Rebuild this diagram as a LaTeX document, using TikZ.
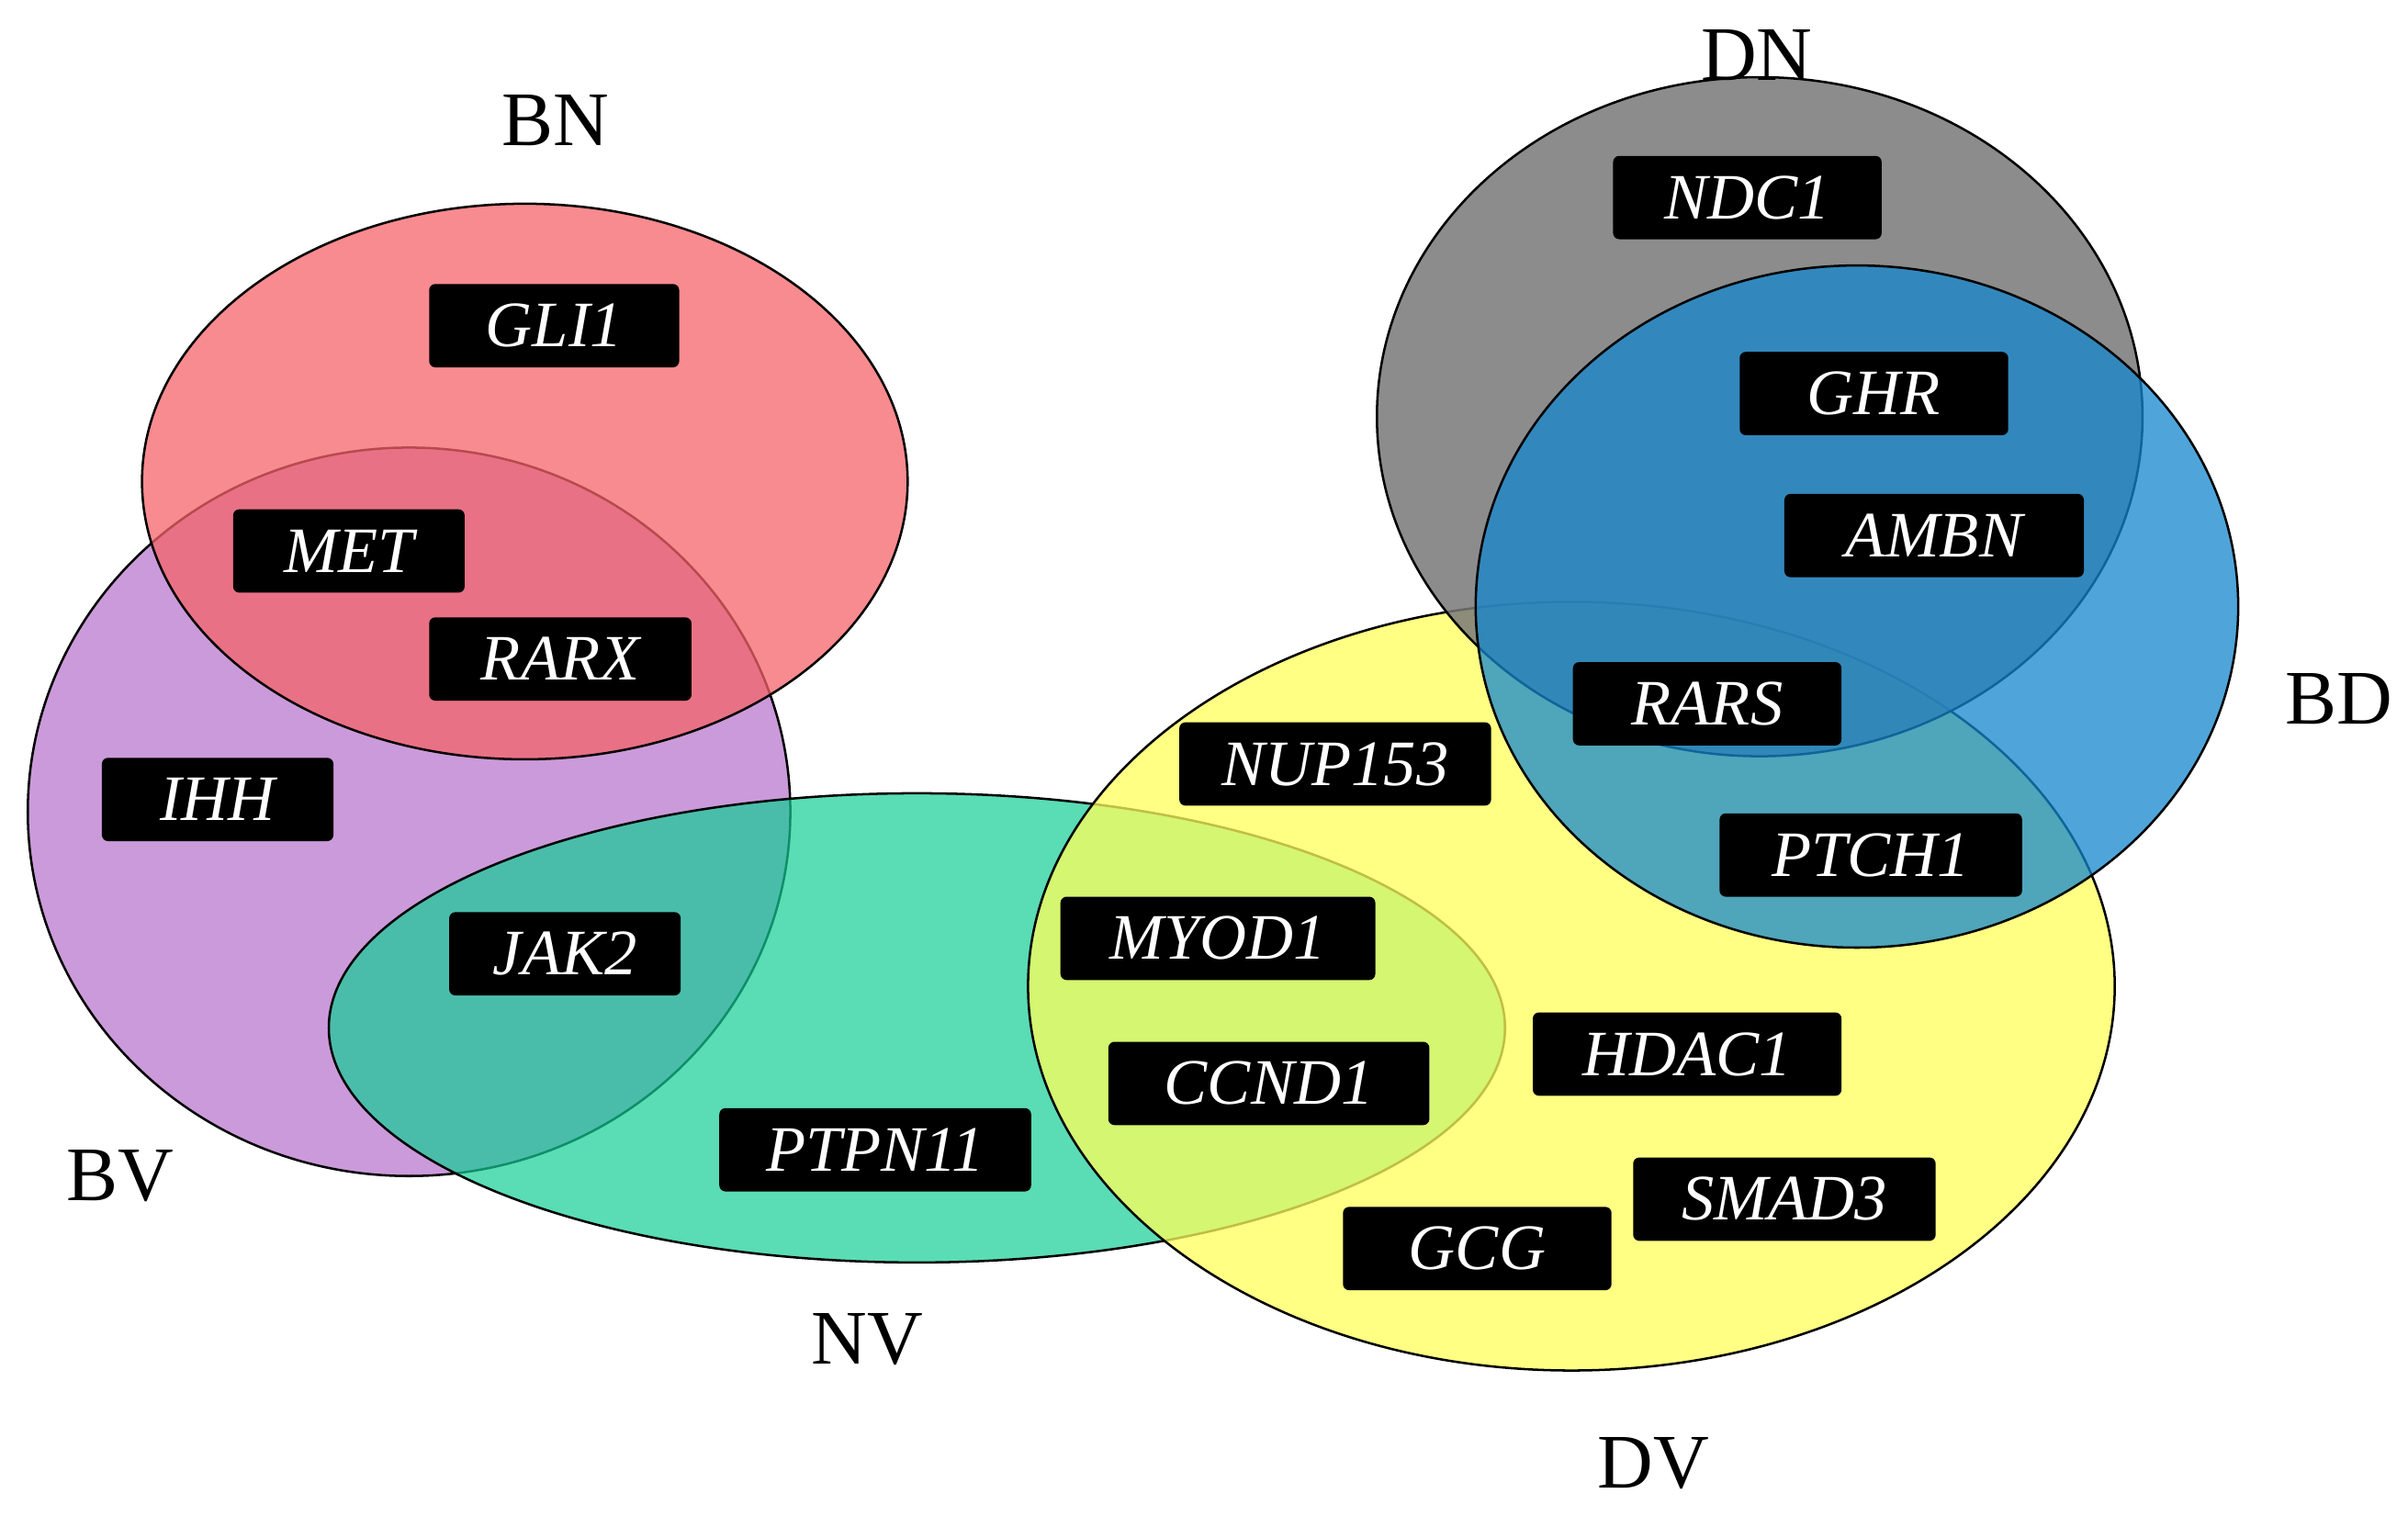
\documentclass[tikz,border=0pt]{standalone}
\usepackage{fontspec}
\setmainfont{Liberation Serif}
\begin{document}
\begin{tikzpicture}[x=1pt,y=-1pt,
  set/.style={draw=black,line width=1.5pt,fill opacity=0.75},
  gene/.style={fill=black,text=white,rounded corners=4pt,minimum height=54pt,inner sep=0pt,font=\fontsize{42}{46}\selectfont\itshape},
  cat/.style={font=\fontsize{50}{54}\selectfont}]
\useasboundingbox (0,0) rectangle (1560,982);
\definecolor{cbv}{RGB}{185,120,205}
\definecolor{cbn}{RGB}{245,100,105}
\definecolor{cnv}{RGB}{20,205,150}
\definecolor{cdv}{RGB}{255,255,90}
\definecolor{cdn}{RGB}{120,120,120}
\definecolor{cbd}{RGB}{20,135,205}
\path[set,fill=cbv] (265,526) ellipse [x radius=247,y radius=236];
\path[set,fill=cbn] (340,312) ellipse [x radius=248,y radius=180];
\path[set,fill=cnv,fill opacity=0.7] (594,666) ellipse [x radius=381,y radius=152];
\path[set,fill=cdv] (1018,639) ellipse [x radius=352,y radius=249];
\path[set,fill=cdn,fill opacity=0.85] (1140,270) ellipse [x radius=248,y radius=220];
\path[set,fill=cbd] (1203,393) ellipse [x radius=247,y radius=221];
\node[gene,minimum width=162pt] (g1) at (359,211) {GLI1};
\node[gene,minimum width=150pt] (g2) at (226,357) {MET};
\node[gene,minimum width=170pt] (g3) at (363,427) {RARX};
\node[gene,minimum width=150pt] (g4) at (141,518) {IHH};
\node[gene,minimum width=150pt] (g5) at (366,618) {JAK2};
\node[gene,minimum width=202pt] (g6) at (567,745) {PTPN11};
\node[gene,minimum width=202pt] (g7) at (865,495) {NUP153};
\node[gene,minimum width=204pt] (g8) at (789,608) {MYOD1};
\node[gene,minimum width=208pt] (g9) at (822,702) {CCND1};
\node[gene,minimum width=200pt] (g10) at (1093,683) {HDAC1};
\node[gene,minimum width=196pt] (g11) at (1156,777) {SMAD3};
\node[gene,minimum width=174pt] (g12) at (957,809) {GCG};
\node[gene,minimum width=174pt] (g13) at (1132,128) {NDC1};
\node[gene,minimum width=174pt] (g14) at (1214,255) {GHR};
\node[gene,minimum width=194pt] (g15) at (1253,347) {AMBN};
\node[gene,minimum width=174pt] (g16) at (1106,456) {RARS};
\node[gene,minimum width=196pt] (g17) at (1212,554) {PTCH1};
\node[cat] (bn) at (360,78) {BN};
\node[cat] (dn) at (1138,36) {DN};
\node[cat] (bd) at (1515,453) {BD};
\node[cat] (bv) at (78,762) {BV};
\node[cat] (nv) at (562,868) {NV};
\node[cat] (dv) at (1071,948) {DV};
\end{tikzpicture}
\end{document}
